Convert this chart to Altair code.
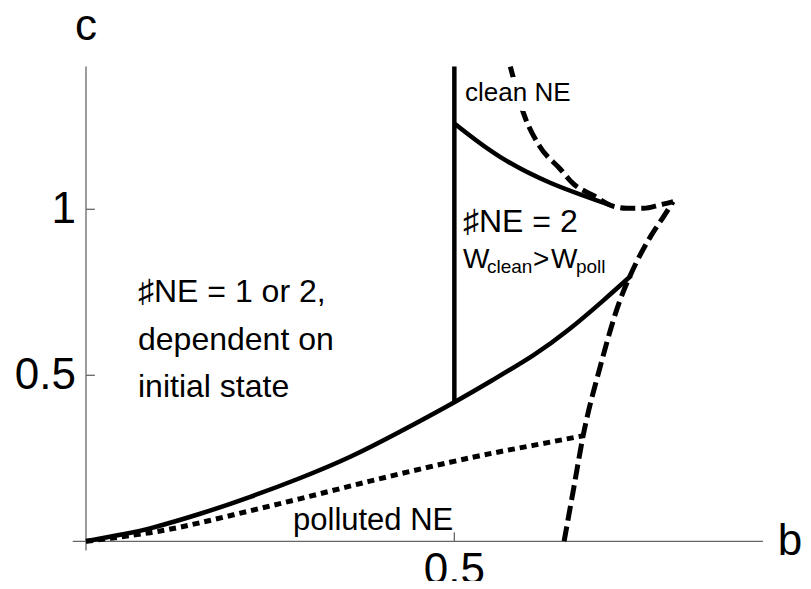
import altair as alt
import pandas as pd

# ---------------- data ----------------
# vertical solid boundary at b = 0.5
vert_b = [0.5, 0.5]
vert_c = [0.42, 1.43]

# upper solid curve (clean NE boundary)
upper_b = [0.501, 0.517, 0.562, 0.630, 0.711]
upper_c = [1.257, 1.229, 1.158, 1.080, 1.013]

# lower solid curve
lower_b = [0.0, 0.050, 0.087, 0.155, 0.223, 0.290, 0.358, 0.426, 0.500, 0.553, 0.607, 0.655, 0.702, 0.740]
lower_c = [0.0, 0.021, 0.039, 0.083, 0.134, 0.190, 0.254, 0.330, 0.419, 0.487, 0.560, 0.637, 0.725, 0.800]

# dotted curve (polluted NE boundary)
dot_b = [0.0, 0.087, 0.155, 0.223, 0.290, 0.358, 0.426, 0.494, 0.553, 0.607, 0.675]
dot_c = [0.0, 0.026, 0.056, 0.092, 0.128, 0.166, 0.203, 0.238, 0.266, 0.289, 0.318]

# dashed curves
dash_up_b = [0.576, 0.594, 0.616, 0.643, 0.661, 0.690, 0.711, 0.734, 0.757, 0.779, 0.797]
dash_up_c = [1.430, 1.289, 1.189, 1.123, 1.078, 1.040, 1.013, 1.003, 1.003, 1.013, 1.023]
dash_lo_b = [0.649, 0.662, 0.675, 0.698, 0.725, 0.738, 0.766, 0.784, 0.797]
dash_lo_c = [0.000, 0.160, 0.320, 0.526, 0.727, 0.797, 0.917, 0.978, 1.023]

# axis ticks and labels
y_ticks = [0.5, 1.0]
y_tick_labels = ["0.5", "1"]
x_ticks = [0.5]
x_tick_labels = ["0.5"]

# annotations
ann_text = ["\u266fNE = 1 or 2,", "dependent on", "initial state",
            "\u266fNE = 2", "W", "clean", ">", "W", "poll",
            "polluted NE"]
ann_b = [0.0706, 0.0706, 0.0706, 0.5117, 0.5117, 0.5443, 0.6068, 0.6312, 0.6651, 0.281]
ann_c = [0.720, 0.576, 0.436, 0.932, 0.823, 0.808, 0.823, 0.823, 0.808, 0.034]
ann_fs = [32, 32, 32, 32, 28, 19, 28, 28, 19, 31]

clean_text = ["clean NE"]
clean_b = [0.5145]
clean_c = [1.327]

# ---------------- scales ----------------
XMIN, XMAX = -0.10588, 0.97326
YMIN, YMAX = -0.11957, 1.60633
xs = alt.Scale(domain=[XMIN, XMAX], nice=False, zero=False)
ys = alt.Scale(domain=[YMIN, YMAX], nice=False, zero=False)
FONT = "Liberation Sans"


def line_df(bs, cs, name):
    return pd.DataFrame({"b": bs, "c": cs, "i": list(range(len(bs))), "curve": name})


def X(field="b"):
    return alt.X(f"{field}:Q", scale=xs, axis=None)


def Y(field="c"):
    return alt.Y(f"{field}:Q", scale=ys, axis=None)


# axes lines
axes_df = pd.DataFrame({"b": [-0.018, 0.0], "b2": [0.919, 0.0],
                        "c": [0.0, -0.028], "c2": [0.0, 1.43]})
axes = alt.Chart(axes_df).mark_rule(color="#666666", strokeWidth=1.3).encode(
    x=X("b"), x2="b2", y=Y("c"), y2="c2")

ytick_df = pd.DataFrame({"b": [0.0] * len(y_ticks), "b2": [0.012] * len(y_ticks),
                         "c": y_ticks, "lab": y_tick_labels})
yticks = alt.Chart(ytick_df).mark_rule(color="#666666", strokeWidth=1.3).encode(
    x=X("b"), x2="b2", y=Y("c"))
ylabels = alt.Chart(ytick_df).mark_text(
    align="right", baseline="middle", font=FONT, fontSize=44, dx=-10, dy=1, color="black"
).encode(x=alt.X("b:Q", scale=xs, axis=None), y=Y("c"), text="lab:N")

xtick_df = pd.DataFrame({"b": x_ticks, "c": [0.0] * len(x_ticks),
                         "c2": [0.027] * len(x_ticks), "lab": x_tick_labels})
xticks = alt.Chart(xtick_df).mark_rule(color="#666666", strokeWidth=1.3).encode(
    x=X("b"), y=Y("c"), y2="c2")
xlabels = alt.Chart(xtick_df).mark_text(
    align="center", baseline="top", font=FONT, fontSize=44, dy=8, color="black"
).encode(x=X("b"), y=Y("c"), text="lab:N")

title_df = pd.DataFrame({"b": [0.0, 0.9556], "c": [1.510, -0.041], "t": ["c", "b"]})
titles = alt.Chart(title_df).mark_text(
    align="center", baseline="alphabetic", font=FONT, fontSize=44, color="black"
).encode(x=X("b"), y=Y("c"), text="t:N")

# curves
dashed_df = pd.concat([line_df(dash_up_b, dash_up_c, "up"), line_df(dash_lo_b, dash_lo_c, "lo")])
dashed = alt.Chart(dashed_df).mark_line(
    color="black", strokeWidth=5, strokeDash=[15, 6], interpolate="monotone", strokeCap="butt"
).encode(x=X(), y=Y(), detail="curve:N", order="i:Q")

dotted = alt.Chart(line_df(dot_b, dot_c, "dot")).mark_line(
    color="black", strokeWidth=5, strokeDash=[7, 5], interpolate="natural", strokeCap="butt"
).encode(x=X(), y=Y(), order="i:Q")

solid_df = pd.concat([line_df(upper_b, upper_c, "upper"), line_df(lower_b, lower_c, "lower")])
solid = alt.Chart(solid_df).mark_line(
    color="black", strokeWidth=4.5, interpolate="natural"
).encode(x=X(), y=Y(), detail="curve:N", order="i:Q")

vertical = alt.Chart(line_df(vert_b, vert_c, "vert")).mark_line(
    color="black", strokeWidth=4.5
).encode(x=X(), y=Y(), order="i:Q")

# labels
clean_df = pd.DataFrame({"b": clean_b, "c": clean_c, "t": clean_text})
clean_halo = alt.Chart(clean_df).mark_text(
    align="left", baseline="alphabetic", font=FONT, fontSize=26,
    color="white", stroke="white", strokeWidth=20, strokeJoin="round"
).encode(x=X(), y=Y(), text="t:N")
clean_lab = alt.Chart(clean_df).mark_text(
    align="left", baseline="alphabetic", font=FONT, fontSize=26, color="black"
).encode(x=X(), y=Y(), text="t:N")

ann_df = pd.DataFrame({"b": ann_b, "c": ann_c, "t": ann_text, "fs": ann_fs})
ann = alt.Chart(ann_df).mark_text(
    align="left", baseline="alphabetic", font=FONT, color="black"
).encode(x=X(), y=Y(), text="t:N", size=alt.Size("fs:Q", scale=None, legend=None))

chart = alt.layer(
    axes, yticks, xticks, ylabels, xlabels, titles,
    dashed, dotted, clean_halo, solid, vertical, clean_lab, ann
).properties(
    width=795, height=573, padding=0, autosize=alt.AutoSizeParams(type="none")
).configure_view(stroke=None)

chart.save("out.html", embed_options={"renderer": "svg", "actions": False})
